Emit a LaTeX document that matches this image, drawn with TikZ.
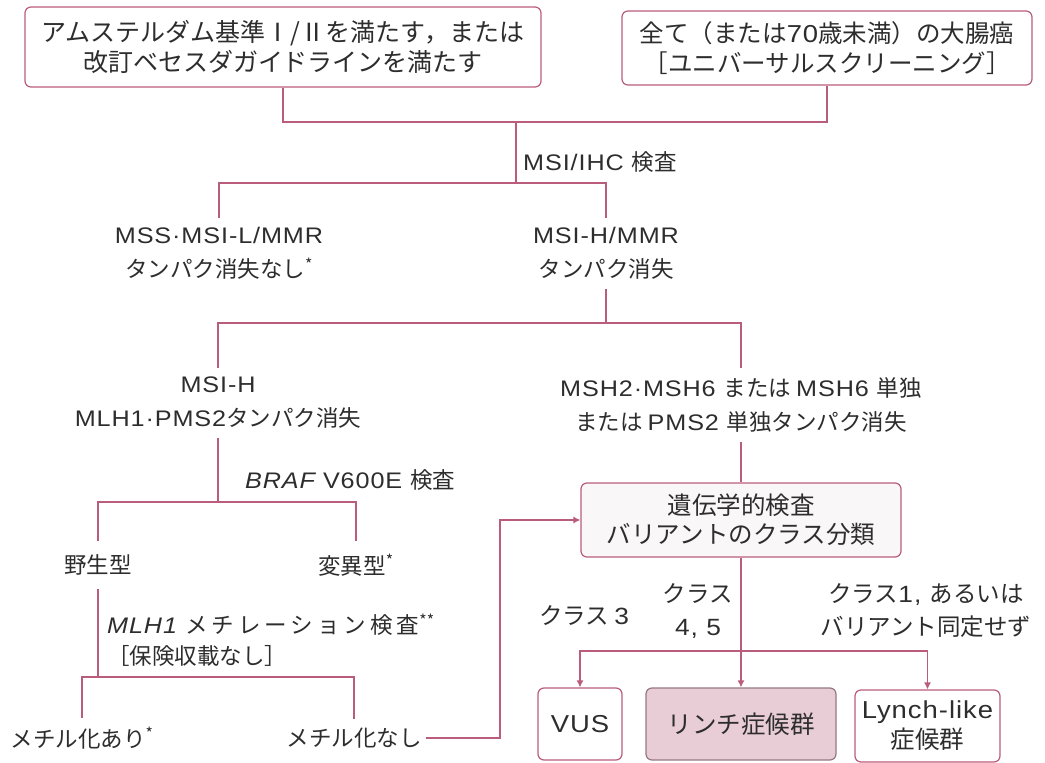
\documentclass[tikz,border=0pt]{standalone}
\usepackage{fontspec}
\setmainfont{Noto Sans CJK JP}
\newfontfamily\lt{Liberation Sans}[FakeStretch=1.12, LetterSpace=4]
\newfontfamily\wide{Noto Sans CJK JP}[LetterSpace=18]
\usetikzlibrary{arrows.meta}
\definecolor{lc}{RGB}{186,92,124}
\definecolor{tc}{RGB}{45,45,45}
\definecolor{lynchfill}{RGB}{232,204,214}
\definecolor{lynchdraw}{RGB}{150,120,132}
\definecolor{genefill}{RGB}{249,247,247}
\begin{document}
\begin{tikzpicture}[x=1pt,y=-1pt,
  conn/.style={draw=lc, line width=1.2pt},
  arr/.style={conn, -{Latex[length=7pt,width=7pt]}},
  rbox/.style={draw=lc, line width=1.2pt, rounded corners=6pt, fill=white, text=tc, align=center, inner sep=0pt},
  lab/.style={text=tc, align=center, inner xsep=2pt, inner ysep=9pt, font=\fontsize{22.5}{34}\selectfont},
  side/.style={text=tc, align=left, inner sep=0pt, anchor=west, font=\fontsize{22.5}{31}\selectfont},
  bt/.style={font=\fontsize{24.5}{30}\selectfont}
]
\useasboundingbox (0,0) rectangle (1045,763);

% top boxes
\node[rbox, font=\fontsize{25}{30}\selectfont, minimum width=516pt, minimum height=80pt] (A) at (283,47)
  {アムステルダム基準Ⅰ/Ⅱを満たす，または\\改訂ベセスダガイドラインを満たす};
\node[rbox, bt, minimum width=410pt, minimum height=74pt] (B) at (827,48)
  {全て（または{\lt 70}歳未満）の大腸癌\\［ユニバーサルスクリーニング］};

\coordinate (j1) at (516,122);
\coordinate (j2) at (516,183);
\draw[conn] (A.south) |- (j1) -| (B.south);
\draw[conn] (j1) -- (j2);
\node[side] (msiihc) at (523,162) {{\lt MSI/IHC }検査};

% second level
\node[lab] (mss) at (219,253.5) {{\lt MSS·MSI-L/MMR}\\タンパク消失なし\textsuperscript{*}};
\node[lab] (msihmmr) at (606,253.5) {{\lt MSI-H/MMR}\\タンパク消失};
\draw[conn] (mss.north) |- (j2) -| (msihmmr.north);

% third level
\coordinate (j3) at (606,323);
\node[lab] (msih) at (218,403) {{\lt MSI-H}\\{\lt MLH1·PMS2}タンパク消失};
\node[lab] (msh) at (741,405) {{\lt MSH2·MSH6 }または {\lt MSH6 }単独\\または {\lt PMS2 }単独タンパク消失};
\draw[conn] (msihmmr.south) -- (j3);
\draw[conn] (msih.north) |- (j3) -| (msh.north);

% BRAF
\coordinate (j4) at (218,502);
\node[side] (braf) at (245,480) {{\lt\itshape BRAF }{\lt V600E }検査};
\node[lab, inner ysep=13pt] (wild) at (98,565) {野生型};
\node[lab, inner ysep=13pt] (mut) at (356,565) {変異型\textsuperscript{*}};
\draw[conn] (msih.south) -- (j4);
\draw[conn] (wild.north) |- (j4) -| (mut.north);

% MLH1 methylation
\coordinate (j5) at (98,677);
\node[side] (meth) at (107,640) {{\lt\itshape MLH1 }{\wide メチレーション検査}\textsuperscript{**}\\［保険収載なし］};
\node[lab, inner ysep=9pt] (methyes) at (82,738) {メチル化あり\textsuperscript{*}};
\node[lab, inner ysep=9pt, inner xsep=4pt] (methno) at (354,738) {メチル化なし};
\draw[conn] (wild.south) -- (j5);
\draw[conn] (methyes.north) |- (j5) -| (methno.north);

% genetic testing
\node[rbox, font=\fontsize{24.5}{29}\selectfont, fill=genefill, minimum width=320pt, minimum height=74pt] (gene) at (741,520)
  {遺伝学的検査\\バリアントのクラス分類};
\draw[conn] (msh.south) -- (gene.north);
\coordinate (turn) at (500,738);
\draw[arr] (methno.east) -- (turn) |- (gene.west);

% classes
\coordinate (cl) at (741,651);
\node[rbox, bt, minimum width=84pt, minimum height=72pt] (vus) at (580,724) {{\lt VUS}};
\node[rbox, bt, draw=lynchdraw, fill=lynchfill, minimum width=190pt, minimum height=72pt] (lynch) at (741,724) {リンチ症候群};
\node[rbox, bt, minimum width=145pt, minimum height=72pt] (ll) at (927.5,726) {{\lt Lynch-like}\\症候群};
\draw[arr] (gene.south) -- (lynch.north);
\draw[arr] (cl) -| (vus.north);
\draw[arr] (cl) -| (ll.north);

\node[lab, inner sep=0pt, font=\fontsize{23.5}{33}\selectfont] (c3) at (584,616) {クラス {\lt 3}};
\node[lab, inner sep=0pt, font=\fontsize{23.5}{33}\selectfont] (c45) at (698,611) {クラス\\{\lt 4, 5}};
\node[lab, inner sep=0pt, font=\fontsize{23.5}{33}\selectfont] (c1) at (926,611) {クラス{\lt 1, }あるいは\\バリアント同定せず};
\end{tikzpicture}
\end{document}
